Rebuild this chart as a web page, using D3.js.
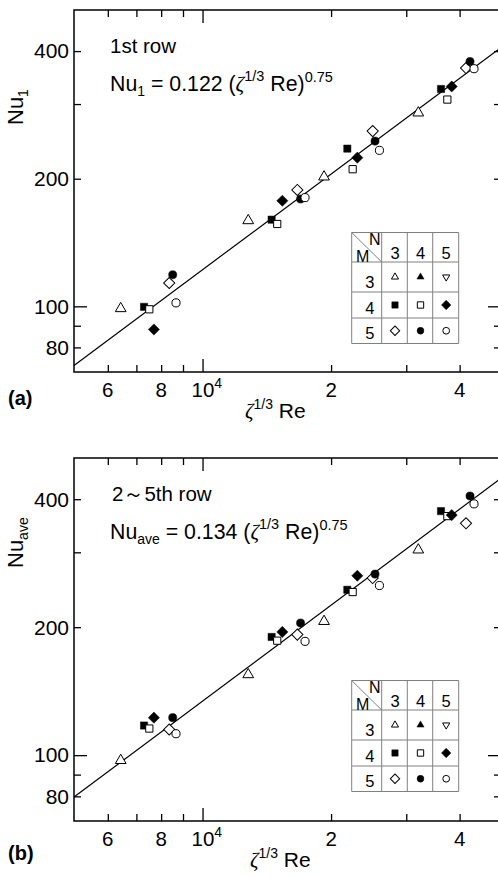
<!DOCTYPE html>
<html>
<head>
<meta charset="utf-8">
<script src="https://cdnjs.cloudflare.com/ajax/libs/d3/7.8.5/d3.min.js"></script>
<style>
body { margin: 0; background: #fff; }
text { font-family: "Liberation Sans", Arial, sans-serif; fill: #000; }
.tick line { stroke: #000; stroke-width: 1.3; }
</style>
</head>
<body>
<script>
var width = 498, height = 877;
var left = 74, right = 501;

// axis ticks
var xMinorTicks = [6000, 7000, 8000, 9000, 20000, 30000, 40000];
var xMajorTicks = [10000];
var xTickLabels = [[6000, "6", ""], [8000, "8", ""], [10000, "10", "4"], [20000, "2", ""], [40000, "4", ""]];
var yMinorTicks = [80, 90, 200, 300, 400];
var yMajorTicks = [100];
var yTickLabels = [80, 100, 200, 400];

// zeta^(1/3) Re, same in both panels
var reTriOpen = [6432, 12794, 19255, 32010];
var reSqFilled = [7295, 14515, 21830, 36180];
var reSqOpen = [7505, 14960, 22470, 37440];
var reDiaFilled = [7693, 15377, 23040, 38330];
var reDiaOpen = [8356, 16672, 25030, 41400];
var reCirFilled = [8514, 16965, 25350, 42310];
var reCirOpen = [8667, 17380, 25960, 43230];

// (a) Nu_1, 1st row
var nu1TriOpen = [98.8, 159.3, 202, 286];
var nu1SqFilled = [99.7, 160.1, 235.5, 325.6];
var nu1SqOpen = [98.4, 156.4, 210.6, 307.4];
var nu1DiaFilled = [88.2, 177.4, 224.2, 330];
var nu1DiaOpen = [113.5, 188.2, 259, 364.8];
var nu1CirFilled = [118.7, 179.1, 245.3, 378];
var nu1CirOpen = [101.9, 180.5, 233.3, 363.5];

// (b) Nu_ave, 2~5th row
var nuAveTriOpen = [97.2, 154.7, 206.4, 304];
var nuAveSqFilled = [117.4, 189.7, 244.9, 375];
var nuAveSqOpen = [115.5, 185.9, 241.9, 365];
var nuAveDiaFilled = [122.5, 194.9, 264.2, 367];
var nuAveDiaOpen = [114.9, 192.1, 260.9, 351];
var nuAveCirFilled = [122.5, 204.6, 266.6, 407];
var nuAveCirOpen = [112.3, 185.2, 250.6, 390];

// fit: Nu = c * (zeta^(1/3) Re)^0.75
var fitCoef = [0.122, 0.134];
var fitExp = 0.75;

// legend table, rows M = 3,4,5 ; cols N = 3,4,5
var legendN = ["3", "4", "5"];
var legendM = ["3", "4", "5"];
var legendShapes = [
  [["triangle", false], ["triangle", true], ["triangleDown", false]],
  [["square", true], ["square", false], ["diamond", true]],
  [["diamond", false], ["circle", true], ["circle", false]]
];

var seriesList = [
  {shape: "triangle", filled: false, x: reTriOpen, a: nu1TriOpen, b: nuAveTriOpen},
  {shape: "square", filled: true, x: reSqFilled, a: nu1SqFilled, b: nuAveSqFilled},
  {shape: "square", filled: false, x: reSqOpen, a: nu1SqOpen, b: nuAveSqOpen},
  {shape: "diamond", filled: true, x: reDiaFilled, a: nu1DiaFilled, b: nuAveDiaFilled},
  {shape: "diamond", filled: false, x: reDiaOpen, a: nu1DiaOpen, b: nuAveDiaOpen},
  {shape: "circle", filled: true, x: reCirFilled, a: nu1CirFilled, b: nuAveCirFilled},
  {shape: "circle", filled: false, x: reCirOpen, a: nu1CirOpen, b: nuAveCirOpen}
];

var plotSizes = {triangle: 50, triangleDown: 50, square: 52, diamond: 62, circle: 52};
var legendSizes = {triangle: 22, triangleDown: 22, square: 40, diamond: 44, circle: 36};

var svg = d3.select("body")
  .append("svg")
  .attr("width", width)
  .attr("height", height);

function symbolPath(shape, size) {
  var type = d3.symbolCircle;
  if (shape == "triangle" || shape == "triangleDown") type = d3.symbolTriangle;
  if (shape == "square" || shape == "diamond") type = d3.symbolSquare;
  return d3.symbol().type(type).size(size)();
}

function rotation(shape) {
  if (shape == "diamond") return " rotate(45)";
  if (shape == "triangleDown") return " rotate(180)";
  return "";
}

function drawMarker(g, shape, filled, size, cx, cy) {
  g.append("path")
    .attr("d", symbolPath(shape, size))
    .attr("transform", "translate(" + cx + "," + cy + ")" + rotation(shape))
    .attr("fill", filled ? "#000" : "#fff")
    .attr("stroke", "#000")
    .attr("stroke-width", filled ? 0.5 : 1);
}

function drawPanel(p) {
  var xScale = d3.scaleLog().domain([5000, 50000]).range([left, right]);
  var yScale = d3.scaleLog().domain([70, 500]).range([p.bottom, p.top]);
  var g = svg.append("g");

  // ticks (all inward)
  function addAxis(axis, tx, ty) {
    var a = g.append("g")
      .attr("transform", "translate(" + tx + "," + ty + ")")
      .call(axis);
    a.select(".domain").remove();
    a.selectAll("text").remove();
  }
  [[xMinorTicks, 7], [xMajorTicks, 13]].forEach(function(t) {
    addAxis(d3.axisBottom(xScale).tickValues(t[0]).tickSize(-t[1]).tickSizeOuter(0), 0, p.bottom);
    addAxis(d3.axisTop(xScale).tickValues(t[0]).tickSize(-t[1]).tickSizeOuter(0), 0, p.top);
  });
  [[yMinorTicks, 7], [yMajorTicks, 13]].forEach(function(t) {
    addAxis(d3.axisLeft(yScale).tickValues(t[0]).tickSize(-t[1]).tickSizeOuter(0), left, 0);
    addAxis(d3.axisRight(yScale).tickValues(t[0]).tickSize(-t[1]).tickSizeOuter(0), right, 0);
  });

  g.append("rect")
    .attr("x", left).attr("y", p.top)
    .attr("width", right - left).attr("height", p.bottom - p.top)
    .attr("fill", "none").attr("stroke", "#000").attr("stroke-width", 1.5);

  // tick labels
  yTickLabels.forEach(function(v) {
    g.append("text")
      .attr("x", left - 5).attr("y", yScale(v)).attr("dy", "0.35em")
      .attr("text-anchor", "end").attr("font-size", 21)
      .text(v);
  });
  xTickLabels.forEach(function(d) {
    var t = g.append("text")
      .attr("y", p.bottom + 25).attr("font-size", 20.5);
    if (d[2]) {
      t.attr("x", xScale(d[0]) - 11).attr("text-anchor", "start");
      t.append("tspan").text(d[1]);
      t.append("tspan").attr("dy", -9).attr("font-size", 14).text(d[2]);
    } else {
      t.attr("x", xScale(d[0])).attr("text-anchor", "middle").text(d[1]);
    }
  });

  // fit line
  var lineData = [5000, 50000].map(function(v) { return [v, fitCoef[p.index] * Math.pow(v, fitExp)]; });
  g.append("path")
    .datum(lineData)
    .attr("d", d3.line()
      .x(function(d) { return xScale(d[0]); })
      .y(function(d) { return yScale(d[1]); }))
    .attr("fill", "none").attr("stroke", "#000").attr("stroke-width", 1.2);

  // points
  seriesList.forEach(function(s) {
    s.x.forEach(function(xv, i) {
      drawMarker(g, s.shape, s.filled, plotSizes[s.shape], xScale(xv), yScale(s[p.key][i]));
    });
  });

  // axis titles
  var yl = g.append("text")
    .attr("transform", "translate(23," + p.yLabelY + ") rotate(-90)")
    .attr("font-size", 22);
  yl.append("tspan").text("Nu");
  yl.append("tspan").attr("dy", 5).attr("font-size", 14).text(p.sub);

  var xl = g.append("text")
    .attr("x", p.xLabelX).attr("y", p.bottom + 46).attr("font-size", 21);
  xl.append("tspan").attr("font-family", "Liberation Serif").attr("font-style", "italic").text("\u03b6");
  xl.append("tspan").attr("dy", -9).attr("font-size", 14).text("1/3");
  xl.append("tspan").attr("dy", 9).text(" Re");

  g.append("text")
    .attr("x", 8).attr("y", p.bottom + p.tagDy)
    .attr("font-size", 20).attr("font-weight", "bold")
    .text(p.tag);

  // annotations
  g.append("text")
    .attr("x", p.rowX).attr("y", p.top + 43).attr("font-size", 20.5)
    .text(p.rowText);
  var eq = g.append("text")
    .attr("x", 110).attr("y", p.top + 80.5).attr("font-size", 21.3);
  eq.append("tspan").text("Nu");
  eq.append("tspan").attr("dy", 5).attr("font-size", 14).text(p.sub);
  eq.append("tspan").attr("dy", -5).text(" = " + p.coefText + " (");
  eq.append("tspan").attr("font-family", "Liberation Serif").attr("font-style", "italic").text("\u03b6");
  eq.append("tspan").attr("dy", -10).attr("font-size", 14.5).text("1/3");
  eq.append("tspan").attr("dy", 10).text(" Re)");
  eq.append("tspan").attr("dy", -9).attr("font-size", 14.5).text("0.75");

  drawLegend(g, p.top + 222.5);
}

function drawLegend(g, top) {
  var cols = [351.7, 381.7, 407.3, 432.7, 458.7];
  var rows = [0, 29.5, 59.5, 85.5, 111].map(function(r) { return top + r; });
  var lg = g.append("g");
  cols.forEach(function(c) {
    lg.append("line").attr("x1", c).attr("x2", c).attr("y1", rows[0]).attr("y2", rows[4]);
  });
  rows.forEach(function(r) {
    lg.append("line").attr("x1", cols[0]).attr("x2", cols[4]).attr("y1", r).attr("y2", r);
  });
  lg.append("line").attr("x1", cols[0]).attr("y1", rows[0]).attr("x2", cols[1]).attr("y2", rows[1]);
  lg.selectAll("line").attr("stroke", "#808080").attr("stroke-width", 1);

  lg.append("text").attr("x", 369).attr("y", rows[0] + 12.5).attr("font-size", 16).text("N");
  lg.append("text").attr("x", 356).attr("y", rows[1] - 0.5).attr("font-size", 16).text("M");
  legendN.forEach(function(n, j) {
    lg.append("text")
      .attr("x", (cols[j + 1] + cols[j + 2]) / 2 + 0.5).attr("y", rows[0] + 26)
      .attr("text-anchor", "middle").attr("font-size", 16.5).text(n);
  });
  legendM.forEach(function(m, i) {
    lg.append("text")
      .attr("x", 374.5).attr("y", rows[i + 2] - 4.5)
      .attr("text-anchor", "end").attr("font-size", 16.5).text(m);
    legendShapes[i].forEach(function(s, j) {
      var cx = (cols[j + 1] + cols[j + 2]) / 2 + 0.5;
      var cy = (rows[i + 1] + rows[i + 2]) / 2;
      drawMarker(lg, s[0], s[1], legendSizes[s[0]], cx, cy);
    });
  });
}

drawPanel({index: 0, key: "a", top: 10, bottom: 372, sub: "1", coefText: "0.122",
  rowText: "1st row", rowX: 110, tag: "(a)", tagDy: 33, yLabelY: 125, xLabelX: 245});
drawPanel({index: 1, key: "b", top: 458, bottom: 821, sub: "ave", coefText: "0.134",
  rowText: "2\uff5e5th row", rowX: 112, tag: "(b)", tagDy: 39, yLabelY: 568, xLabelX: 250});
</script>
</body>
</html>
